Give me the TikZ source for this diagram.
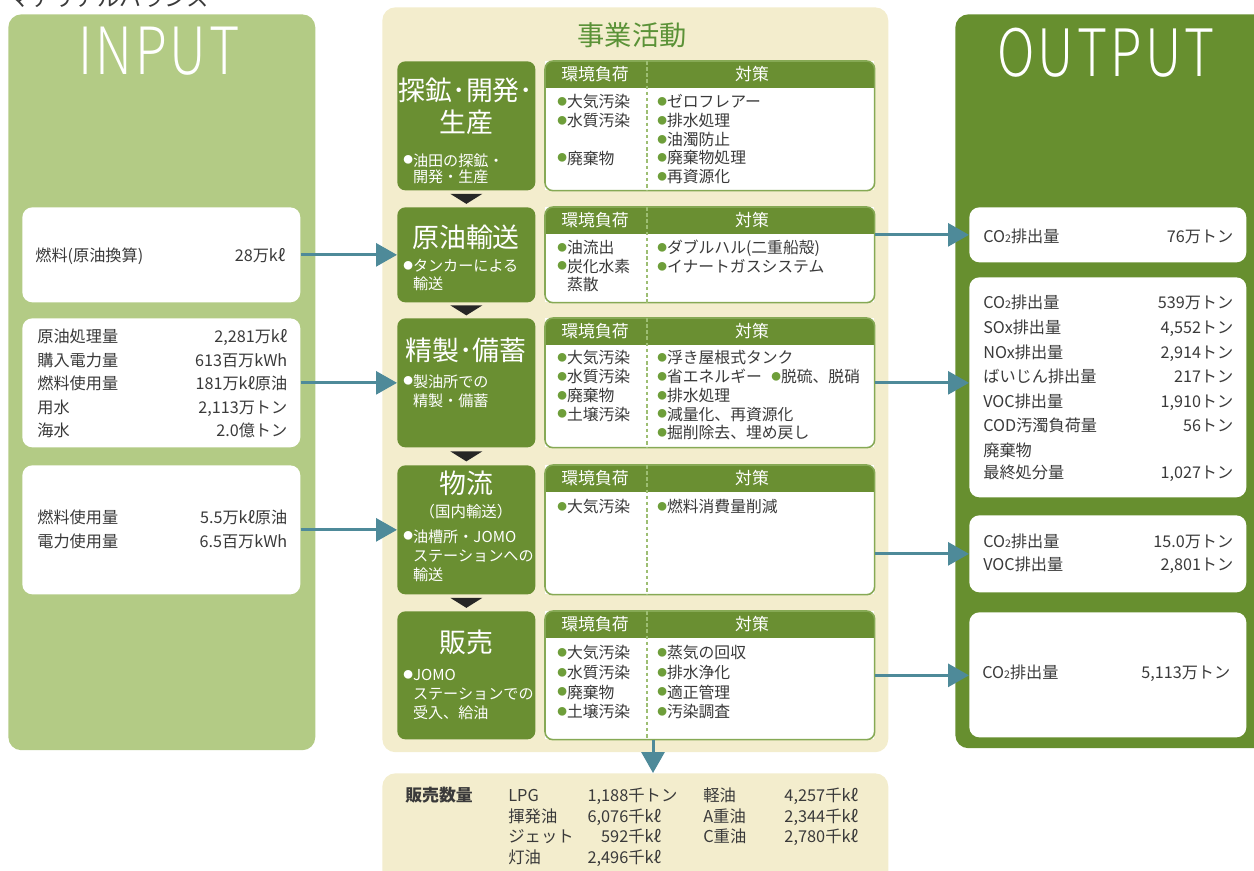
\documentclass[tikz,border=0pt]{standalone}
\usepackage{fontspec}
\setmainfont{Noto Sans CJK JP}
\IfFontExistsTF{Noto Sans CJK JP Light}{\newfontfamily\thinfont{Noto Sans CJK JP Light}}{\newfontfamily\thinfont{Noto Sans CJK JP}}
\usepackage{tikz}
\usetikzlibrary{arrows.meta, positioning}
\usepackage{xcolor}
\usepackage{array}
\usepackage{graphicx}
\definecolor{InGreen}{HTML}{B3CB85}
\definecolor{OutGreen}{HTML}{678F2F}
\definecolor{StageGreen}{HTML}{6A8F32}
\definecolor{Cream}{HTML}{F3EDCD}
\definecolor{ArrowTeal}{HTML}{4E8A99}
\definecolor{TitleGreen}{HTML}{5B9237}
\definecolor{TextGray}{HTML}{3A3A3A}
\definecolor{BulletGreen}{HTML}{6E9E3A}
\definecolor{TblGreen}{HTML}{86A955}
\definecolor{DashGreen}{HTML}{9DBE73}
\newcommand{\dotmark}{\raisebox{1.2pt}{\fontsize{5.5}{5}\selectfont ●}}
\newcommand{\bul}{\textcolor{BulletGreen}{\dotmark}}
\newcommand{\cotwo}{CO{\fontsize{6}{6}\selectfont 2}}

\begin{document}
\begin{tikzpicture}[x=0.02cm, y=-0.02cm,
  panel/.style={anchor=north west, inner sep=0pt, rounded corners=0.26cm},
  stagebox/.style={anchor=north west, inner sep=0pt, fill=StageGreen, rounded corners=0.16cm, minimum width=2.76cm},
  tbl/.style={anchor=north west, inner sep=0pt, fill=white, minimum width=6.58cm},
  wbox/.style={anchor=north west, inner sep=0pt, fill=white, rounded corners=0.2cm},
  sttitle/.style={text=white, font=\fontsize{15.3}{18}\selectfont, align=center, inner sep=0pt},
  stsub/.style={anchor=north west, text=white, align=left, inner sep=0pt},
  cell/.style={anchor=north west, text=TextGray, align=left, inner sep=0pt},
  hdr/.style={text=white, font=\fontsize{9.6}{10}\selectfont, inner sep=0pt},
  vals/.style={anchor=north west, text=TextGray, align=left, inner sep=0pt, text width=5cm},
  bigword/.style={text=white, inner sep=0pt},
  arr/.style={-{Triangle[width=0.46cm, length=0.42cm]}, line width=1.7pt, draw=ArrowTeal}
]
\useasboundingbox (0,0) rectangle (1254,870);
\clip (0,0) rectangle (1254,870);

% ── PANELS ────────────────────────────────────────────────────────────────────
\node[panel, fill=InGreen,  minimum width=6.14cm,  minimum height=14.72cm] (inpanel)  at (8,14) {};
\node[panel, fill=OutGreen, minimum width=6.8cm,   minimum height=14.68cm] (outpanel) at (955,14) {};
\node[panel, fill=Cream,    minimum width=10.12cm, minimum height=14.9cm]  (bizpanel) at (382,7) {};
\node[panel, fill=Cream,    minimum width=10.12cm, minimum height=2.4cm]   (sales)    at (382,773) {};

\node[anchor=base west, inner sep=0pt, text=TextGray, font=\fontsize{12.7}{13}\selectfont] (maintitle) at (8,6) {マテリアルバランス};
\node[bigword] (intitle)  at (159,51.5)  {\resizebox{3.24cm}{0.95cm}{\thinfont\addfontfeatures{LetterSpace=6}INPUT}};
\node[bigword] (outtitle) at (1106,52.5) {\resizebox{4.34cm}{0.97cm}{\thinfont\addfontfeatures{LetterSpace=6}OUTPUT}};
\node[text=TitleGreen, font=\fontsize{15.5}{16}\selectfont, inner sep=0pt] (biztitle) at (632,35) {事業活動};

% ── INPUT ─────────────────────────────────────────────────────────────────────
\node[wbox, minimum width=5.56cm, minimum height=1.9cm]  (in1) at (22,207) {};
\node[wbox, minimum width=5.56cm, minimum height=2.58cm] (in2) at (22,318) {};
\node[wbox, minimum width=5.56cm, minimum height=2.58cm] (in3) at (22,465) {};

\node[vals, font=\fontsize{9.2}{13.3}\selectfont] (in1t) at (35,247) {燃料(原油換算)\hfill 28万kℓ};
\node[vals, font=\fontsize{9.2}{13.3}\selectfont] (in2t) at (37,329)
  {原油処理量\hfill 2,281万kℓ\\購入電力量\hfill 613百万kWh\\燃料使用量\hfill 181万kℓ原油\\用水\hfill 2,113万トン\\海水\hfill 2.0億トン};
\node[vals, font=\fontsize{9.2}{14.2}\selectfont] (in3t) at (37,509)
  {燃料使用量\hfill 5.5万kℓ原油\\電力使用量\hfill 6.5百万kWh};

% ── STAGES ────────────────────────────────────────────────────────────────────
\node[stagebox, minimum height=2.58cm] (st1) at (397,61) {};
\node[stagebox, minimum height=1.9cm]  (st2) at (397,207) {};
\node[stagebox, minimum height=2.58cm] (st3) at (397,318) {};
\node[stagebox, minimum height=2.58cm] (st4) at (397,465) {};
\node[stagebox, minimum height=2.56cm] (st5) at (397,611) {};

\node[sttitle] (st1t) at (466,106.5) {探鉱･開発･\\生産};
\node[sttitle] (st2t) at (466,237) {原油輸送};
\node[sttitle] (st3t) at (466,350) {精製･備蓄};
\node[sttitle] (st4t) at (466,483) {物流};
\node[text=white, font=\fontsize{8.8}{9}\selectfont, inner sep=0pt] (st4n) at (466,512) {（国内輸送）};
\node[sttitle] (st5t) at (466,642) {販売};

\node[stsub, font=\fontsize{8.6}{9.2}\selectfont]  (st1s) at (403,153) {\dotmark 油田の探鉱・\\\hphantom{\dotmark}開発・生産};
\node[stsub, font=\fontsize{8.6}{10.2}\selectfont] (st2s) at (403,259) {\dotmark タンカーによる\\\hphantom{\dotmark}輸送};
\node[stsub, font=\fontsize{8.6}{11.3}\selectfont] (st3s) at (403,374) {\dotmark 製油所での\\\hphantom{\dotmark}精製・備蓄};
\node[stsub, font=\fontsize{8.6}{10.8}\selectfont] (st4s) at (403,529) {\dotmark 油槽所・JOMO\\\hphantom{\dotmark}ステーションへの\\\hphantom{\dotmark}輸送};
\node[stsub, font=\fontsize{8.6}{10.8}\selectfont] (st5s) at (403,669) {\dotmark JOMO\\\hphantom{\dotmark}ステーションでの\\\hphantom{\dotmark}受入、給油};

\foreach \a/\b in {st1/st2, st2/st3, st3/st4, st4/st5} {
  \path (\a.south) -- coordinate[midway] (mid) (\b.north);
  \fill[black!85] ([shift={(-16,-5)}]mid) -- ([shift={(16,-5)}]mid) -- ([shift={(0,5)}]mid) -- cycle;
}

% ── TABLES ────────────────────────────────────────────────────────────────────
\node[tbl, minimum height=2.58cm] (tb1) at (545,61) {};
\node[tbl, minimum height=1.9cm]  (tb2) at (545,207) {};
\node[tbl, minimum height=2.58cm] (tb3) at (545,318) {};
\node[tbl, minimum height=2.58cm] (tb4) at (545,465) {};
\node[tbl, minimum height=2.56cm] (tb5) at (545,611) {};

\foreach \tb in {tb1, tb2, tb3, tb4, tb5} {
  \begin{scope}
    \clip[rounded corners=0.16cm] (\tb.north west) rectangle (\tb.south east);
    \fill[white] (\tb.north west) rectangle (\tb.south east);
    \fill[StageGreen] (\tb.north west) rectangle ([shift={(0,27)}]\tb.north east);
  \end{scope}
  \draw[TblGreen, line width=0.9pt, rounded corners=0.16cm] (\tb.north west) rectangle (\tb.south east);
  \draw[DashGreen, line width=1.1pt, dash pattern=on 2pt off 1.5pt]
    ([shift={(102,0)}]\tb.north west) -- ([shift={(102,0)}]\tb.south west);
  \node[hdr] (\tb-a) at ([shift={(50,13.5)}]\tb.north west) {環境負荷};
  \node[hdr] (\tb-b) at ([shift={(207,13.5)}]\tb.north west) {対策};
}

\node[cell, font=\fontsize{9}{10.7}\selectfont] (tb1l) at (557,94) {\bul 大気汚染\\\bul 水質汚染\\\mbox{}\\\bul 廃棄物};
\node[cell, font=\fontsize{9}{10.7}\selectfont] (tb1r) at (657,94) {\bul ゼロフレアー\\\bul 排水処理\\\bul 油濁防止\\\bul 廃棄物処理\\\bul 再資源化};
\node[cell, font=\fontsize{9}{10.5}\selectfont] (tb2l) at (557,240) {\bul 油流出\\\bul 炭化水素\\\hphantom{\bul}蒸散};
\node[cell, font=\fontsize{9}{10.5}\selectfont] (tb2r) at (657,240) {\bul ダブルハル(二重船殻)\\\bul イナートガスシステム};
\node[cell, font=\fontsize{9}{10.7}\selectfont] (tb3l) at (557,350) {\bul 大気汚染\\\bul 水質汚染\\\bul 廃棄物\\\bul 土壌汚染};
\node[cell, font=\fontsize{9}{10.7}\selectfont] (tb3r) at (657,350)
  {\bul 浮き屋根式タンク\\\bul 省エネルギー\hspace{0.6em}\bul 脱硫、脱硝\\\bul 排水処理\\\bul 減量化、再資源化\\\bul 掘削除去、埋め戻し};
\node[cell, font=\fontsize{9}{10.7}\selectfont] (tb4l) at (557,499) {\bul 大気汚染};
\node[cell, font=\fontsize{9}{10.7}\selectfont] (tb4r) at (657,499) {\bul 燃料消費量削減};
\node[cell, font=\fontsize{9}{11.2}\selectfont] (tb5l) at (557,645) {\bul 大気汚染\\\bul 水質汚染\\\bul 廃棄物\\\bul 土壌汚染};
\node[cell, font=\fontsize{9}{11.2}\selectfont] (tb5r) at (657,645) {\bul 蒸気の回収\\\bul 排水浄化\\\bul 適正管理\\\bul 汚染調査};

% ── OUTPUT ────────────────────────────────────────────────────────────────────
\node[wbox, minimum width=5.54cm, minimum height=1.1cm]  (out1) at (969,207) {};
\node[wbox, minimum width=5.54cm, minimum height=4.4cm]  (out2) at (969,277) {};
\node[wbox, minimum width=5.54cm, minimum height=1.54cm] (out3) at (969,515) {};
\node[wbox, minimum width=5.54cm, minimum height=2.5cm]  (out4) at (969,612) {};

\node[vals, font=\fontsize{9.2}{14}\selectfont] (out1t) at (983,229) {\cotwo 排出量\hfill 76万トン};
\node[vals, font=\fontsize{9.2}{14}\selectfont] (out2t) at (983,295)
  {\cotwo 排出量\hfill 539万トン\\SOx排出量\hfill 4,552トン\\NOx排出量\hfill 2,914トン\\ばいじん排出量\hfill 217トン\\
   VOC排出量\hfill 1,910トン\\COD汚濁負荷量\hfill 56トン\\廃棄物\\[-1.5pt]最終処分量\hfill 1,027トン};
\node[vals, font=\fontsize{9.2}{13}\selectfont] (out3t) at (983,534) {\cotwo 排出量\hfill 15.0万トン\\VOC排出量\hfill 2,801トン};
\node[vals, text width=4.96cm, font=\fontsize{9.2}{13}\selectfont] (out4t) at (982,665) {\cotwo 排出量\hfill 5,113万トン};

% ── SALES ─────────────────────────────────────────────────────────────────────
\node[anchor=base west, inner sep=0pt, text=TextGray, font=\fontsize{9.6}{10}\selectfont\bfseries] (salestitle) at (405,801) {販売数量};
\node[anchor=north west, inner sep=0pt, text=TextGray, font=\fontsize{9.3}{11.7}\selectfont] (salest) at (508,787)
  {\begin{tabular}{@{}p{1.4cm}@{}>{\raggedleft\arraybackslash}p{1cm}@{}p{1.5cm}@{}p{1.4cm}@{}>{\raggedleft\arraybackslash}p{1.04cm}@{}l@{}}
   LPG & 1,188 & 千トン & 軽油 & 4,257 & 千kℓ\\
   揮発油 & 6,076 & 千kℓ & A重油 & 2,344 & 千kℓ\\
   ジェット & 592 & 千kℓ & C重油 & 2,780 & 千kℓ\\
   灯油 & 2,496 & 千kℓ & & &
   \end{tabular}};

% ── CONNECTORS ────────────────────────────────────────────────────────────────
\draw[arr] (in1.east) -- (st2.west);
\draw[arr] (in2.east) -- (st3.west);
\draw[arr] (in3.east) -- (st4.west);

\draw[arr] (tb2.east |- out1.west) -- (out1.west);
\draw[arr] (tb3.east) -- (tb3.east -| out2.west);
\draw[arr] (tb4.east |- out3.west) -- (out3.west);
\draw[arr] (tb5.east) -- (tb5.east -| out4.west);

\coordinate (sellsrc) at ([shift={(108,0)}]tb5.south west);
\draw[arr] (sellsrc) -- (sellsrc |- sales.north);

\end{tikzpicture}
\end{document}
